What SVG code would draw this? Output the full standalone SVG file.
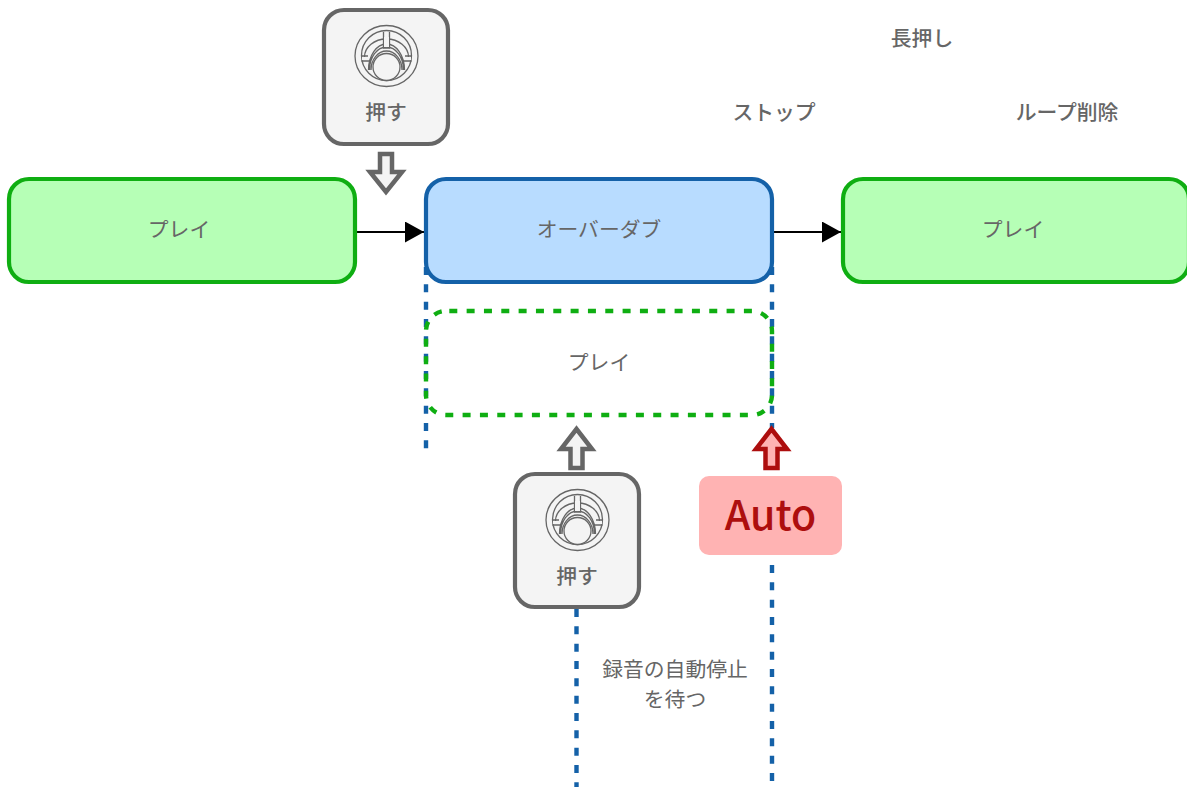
<svg xmlns="http://www.w3.org/2000/svg" width="1187" height="787" viewBox="0 0 1187 787">
<style>
text{font-family:"Noto Sans CJK JP","Noto Sans","Liberation Sans",sans-serif;fill:#666;text-anchor:middle;font-size:20.8px}
.b{font-weight:500}
.box{stroke-width:4.200}
.green{fill:#b6ffb6;stroke:#0fae12}
.d{fill:none;stroke:#1461a8;stroke-width:4.400;stroke-dasharray:8 9.33}
.ic{fill:none;stroke:#666;stroke-width:1.300}
.fat{fill:#f4f4f4;stroke:#666;stroke-width:4.500}
</style>
<defs>
<marker id="ah" markerUnits="userSpaceOnUse" markerWidth="19" markerHeight="21" refX="19" refY="10.500" orient="auto"><path d="M0 0L19 10.500L0 21Z" fill="#000"/></marker>
<g id="knob">
<ellipse cx="0.500" rx="31.500" ry="30.500" class="ic"/><circle cx="0.500" cy="-0.500" r="25" class="ic"/>
<path class="ic" d="M-21.500 1A22 18 0 0 1 22.500 1M-17.500 14A18 26 0 0 1 18.500 14M-16.500 14A17 23 0 0 1 17.500 14M-15 14A15.500 19 0 0 1 16 14"/>
<path class="ic" d="M-2.500 -24V-8H3.500V-24M-2.500 -14H3.500M-24.500 0H-18M-24.500 5H-16M25.500 0H19M25.500 5H17"/>
<path d="M-2 -19H3V-9H-2ZM-24 1H-18V4H-24ZM19 1H25V4H19Z" fill="#f4f4f4"/>
<circle cx="0.500" cy="11" r="13.500" fill="#f4f4f4" stroke="#666" stroke-width="1.300"/>
</g>
</defs>
<g id="connectors">
<path d="M356 232H424" stroke="#000" stroke-width="2" fill="none" marker-end="url(#ah)"/>
<path d="M773 232H841" stroke="#000" stroke-width="2" fill="none" marker-end="url(#ah)"/>
<path class="d" d="M426 267V449"/>
<path class="d" d="M772 267V428"/>
<path class="d" d="M576.500 609V787"/>
<path class="d" d="M772 565V781"/>
</g>
<g id="play-left"><rect class="box green" x="9" y="179" width="346" height="103" rx="20"/><text x="179" y="237">プレイ</text></g>
<g id="overdub"><rect class="box" x="426" y="179" width="346" height="103" rx="20" fill="#b8dcff" stroke="#1461a8"/><text x="599" y="237">オーバーダブ</text></g>
<g id="play-right"><rect class="box green" x="843" y="179" width="346" height="103" rx="20"/><text x="1013" y="237">プレイ</text></g>
<g id="play-dashed"><rect x="426" y="311" width="346" height="104" rx="20" fill="none" stroke="#0fae12" stroke-width="4.400" stroke-dasharray="8 9.33" stroke-dashoffset="-3.300"/><text x="599" y="370">プレイ</text></g>
<g id="press-top"><rect class="box" x="324" y="10" width="124" height="134" rx="20" fill="#f4f4f4" stroke="#666"/><use href="#knob" x="386" y="56"/><text class="b" x="386" y="120">押す</text></g>
<g id="press-bottom"><rect class="box" x="515" y="474" width="124" height="133" rx="20" fill="#f4f4f4" stroke="#666"/><use href="#knob" x="577" y="520"/><text class="b" x="577" y="584">押す</text></g>
<g id="arrow-down"><path class="fat" d="M380 154H392V172H402L386 192L370 172H380Z"/></g>
<g id="arrow-up"><path class="fat" d="M570.500 468V449H561L576.500 429L592 449H582.500V468Z"/></g>
<g id="arrow-auto"><path d="M765.500 468V449H756L771.500 429L787 449H777.500V468Z" fill="#ffb3b3" stroke="#ad0e0e" stroke-width="4.500"/></g>
<g id="auto"><rect x="699" y="476" width="143" height="79" rx="10" fill="#ffb3b3"/><text x="770.500" y="530" style="font-size:41px;font-weight:500;fill:#ad0e0e">Auto</text></g>
<g id="labels">
<text class="b" x="922" y="46">長押し</text>
<text class="b" x="774" y="120">ストップ</text>
<text class="b" x="1067" y="120">ループ削除</text>
<text x="675" y="677">録音の自動停止</text>
<text x="675" y="707">を待つ</text>
</g>
</svg>
